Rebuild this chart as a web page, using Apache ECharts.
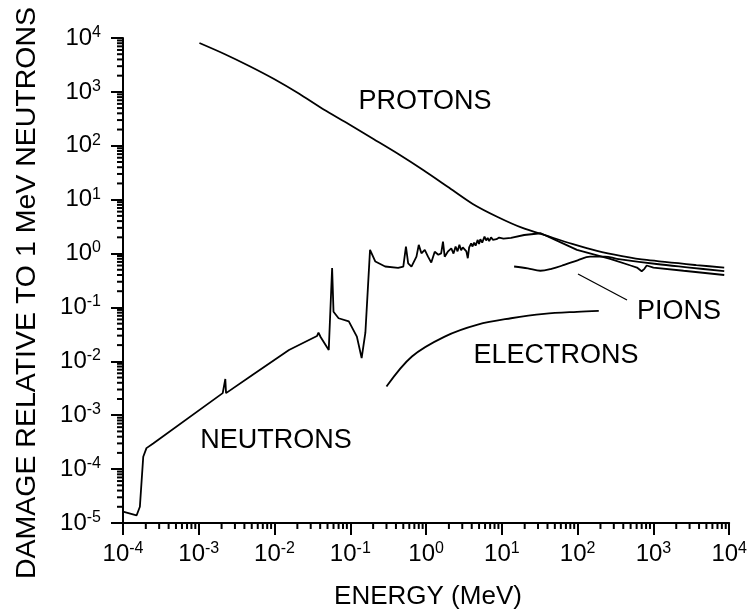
<!DOCTYPE html>
<html><head><meta charset="utf-8">
<script src="https://cdn.jsdelivr.net/npm/echarts@6/dist/echarts.min.js"></script>
<style>html,body{margin:0;padding:0;background:#fff}#c{width:750px;height:612px}</style>
</head><body><div id="c"></div>
<script>
// ---- data (energy in MeV, damage relative to 1 MeV neutrons) ----
const protons = [
  [1.02e-3, 8070], [2.18e-3, 5050], [4.63e-3, 3020], [9.85e-3, 1730], [0.0209, 930],
  [0.0445, 470], [0.0948, 254], [0.202, 134], [0.43, 70.5], [0.914, 35.6],
  [1.95, 17.2], [4.13, 8.34], [8.79, 4.78], [18.7, 2.99], [39.8, 2.12],
  [84.7, 1.51], [180, 1.12], [384, 0.90], [815, 0.76], [3690, 0.61], [8590, 0.55]
];
const neutrons = [
  [1e-4, 1.62e-5], [1.51e-4, 1.38e-5], [1.67e-4, 2.0e-5], [1.85e-4, 1.7e-4],
  [2.04e-4, 2.45e-4], [2.5e-4, 3.0e-4], [2.07e-3, 2.57e-3], [2.24e-3, 4.7e-3],
  [2.29e-3, 2.57e-3], [5.1e-3, 5.6e-3], [0.0155, 0.0162], [0.0363, 0.0295],
  [0.038, 0.034], [0.0407, 0.028], [0.0519, 0.0162], [0.0575, 0.54],
  [0.060, 0.083], [0.070, 0.063], [0.0955, 0.055], [0.122, 0.0288],
  [0.141, 0.0115], [0.158, 0.034], [0.182, 1.17], [0.214, 0.71], [0.288, 0.575],
  [0.427, 0.54], [0.50, 0.57], [0.542, 1.34], [0.58, 0.66], [0.641, 0.57],
  [0.746, 0.875], [0.80, 1.45], [0.867, 1.01], [0.96, 1.17], [1.06, 0.875],
  [1.17, 0.68], [1.30, 1.08], [1.45, 0.95], [1.58, 1.01], [1.67, 1.66], [1.76, 0.875],
  [1.95, 1.1], [2.15, 1.25], [2.3, 1.0], [2.45, 1.35], [2.6, 1.1], [2.75, 1.45],
  [2.9, 1.15], [3.05, 1.3], [3.2, 1.25], [3.4, 1.1], [3.55, 0.82],
  [3.7, 1.3], [3.93, 1.55], [4.1, 1.35], [4.3, 1.6], [4.5, 1.4], [4.8, 1.79],
  [5.0, 1.5], [5.2, 1.85], [5.5, 1.6], [5.9, 2.06], [6.2, 1.75], [6.5, 1.95],
  [6.8, 1.7], [7.2, 2.0], [7.6, 1.8], [7.9, 1.95], [8.5, 1.85], [9.2, 1.98],
  [10.5, 1.9], [13.2, 1.95], [19.7, 2.21], [32.6, 2.38], [55, 1.7], [98, 1.17],
  [268, 0.8], [500, 0.6], [606, 0.55], [700, 0.47], [760, 0.52], [815, 0.6],
  [1000, 0.55], [2500, 0.48], [8600, 0.40]
];
const pions = [
  [14.5, 0.575], [22, 0.53], [32.2, 0.48], [45, 0.52], [66.5, 0.615], [100, 0.75],
  [146, 0.875], [230, 0.88], [330, 0.80], [1100, 0.64], [3000, 0.55], [8600, 0.47]
];
const electrons = [
  [0.30, 3.4e-3], [0.65, 0.0123], [1.76, 0.0288], [4.8, 0.048], [13.2, 0.063],
  [36, 0.076], [98, 0.083], [190, 0.086]
];
const xDecades = [-4, -3, -2, -1, 0, 1, 2, 3, 4];
const yDecades = [-5, -4, -3, -2, -1, 0, 1, 2, 3, 4];
const minorMultipliers = [2, 3, 4, 5, 6, 7, 8, 9];

const X_MIN = 1e-4, X_MAX = 1e4, Y_MIN = 1e-5, Y_MAX = 1e4;

function minorValues(decades) {
  const out = [];
  for (let i = 0; i < decades.length - 1; i++)
    for (const m of minorMultipliers) out.push(m * Math.pow(10, decades[i]));
  return out;
}
const xMinor = minorValues(xDecades).map(v => [v, Y_MIN]);
const yMinor = minorValues(yDecades).map(v => [X_MIN, v]);

const FONT = '"Liberation Sans", Arial, sans-serif';
const supFmt = v => '{b|10}{s|' + Math.round(Math.log10(v)) + '}';
const rich = {
  b: { fontSize: 24, fontFamily: FONT, color: '#000' },
  s: { fontSize: 16, fontFamily: FONT, color: '#000', padding: [0, 0, 11, 0] }
};
const lineStyle = { color: '#000', width: 1.8 };

const chart = echarts.init(document.getElementById('c'), null, { renderer: 'canvas' });
chart.setOption({
  animation: false,
  backgroundColor: '#fff',
  grid: { left: 123, right: 18, top: 38, bottom: 89, containLabel: false },
  xAxis: {
    type: 'log', logBase: 10, min: X_MIN, max: X_MAX,
    axisLine: { lineStyle: { color: '#000', width: 2 } },
    axisTick: { length: 12, lineStyle: { color: '#000', width: 2 } },
    splitLine: { show: false },
    axisLabel: { margin: 18, formatter: supFmt, rich: rich }
  },
  yAxis: {
    type: 'log', logBase: 10, min: Y_MIN, max: Y_MAX,
    axisLine: { lineStyle: { color: '#000', width: 2 } },
    axisTick: { length: 12, lineStyle: { color: '#000', width: 2 } },
    splitLine: { show: false },
    axisLabel: { margin: 22, formatter: supFmt, rich: rich }
  },
  graphic: [
    { type: 'text', x: 428, y: 597, style: { text: 'ENERGY (MeV)', font: '26px ' + FONT, fill: '#000', align: 'center', verticalAlign: 'middle' } },
    { type: 'text', x: 27, y: 293, rotation: Math.PI / 2, style: { text: 'DAMAGE RELATIVE TO 1 MeV NEUTRONS', font: '28.5px ' + FONT, fill: '#000', align: 'center', verticalAlign: 'middle' } },
    { type: 'text', x: 425, y: 102, style: { text: 'PROTONS', font: '27px ' + FONT, fill: '#000', align: 'center', verticalAlign: 'middle' } },
    { type: 'text', x: 276, y: 441, style: { text: 'NEUTRONS', font: '27px ' + FONT, fill: '#000', align: 'center', verticalAlign: 'middle' } },
    { type: 'text', x: 556, y: 356, style: { text: 'ELECTRONS', font: '27px ' + FONT, fill: '#000', align: 'center', verticalAlign: 'middle' } },
    { type: 'text', x: 679, y: 312, style: { text: 'PIONS', font: '27px ' + FONT, fill: '#000', align: 'center', verticalAlign: 'middle' } },
    { type: 'line', shape: { x1: 578, y1: 274, x2: 627, y2: 300 }, style: { stroke: '#000', lineWidth: 1.3 } }
  ],
  series: [
    { type: 'line', data: protons, showSymbol: false, smooth: 0.25, lineStyle, silent: true },
    { type: 'line', data: neutrons, showSymbol: false, lineStyle, silent: true },
    { type: 'line', data: pions, showSymbol: false, smooth: 0.35, lineStyle, silent: true },
    { type: 'line', data: electrons, showSymbol: false, smooth: 0.35, lineStyle, silent: true },
    {
      type: 'custom', data: xMinor, clip: false, silent: true,
      renderItem: (p, api) => {
        const c = api.coord([api.value(0), api.value(1)]);
        return { type: 'line', shape: { x1: c[0], y1: c[1], x2: c[0], y2: c[1] + 6 }, style: { stroke: '#000', lineWidth: 2 } };
      }
    },
    {
      type: 'custom', data: yMinor, clip: false, silent: true,
      renderItem: (p, api) => {
        const c = api.coord([api.value(0), api.value(1)]);
        return { type: 'line', shape: { x1: c[0], y1: c[1], x2: c[0] - 6, y2: c[1] }, style: { stroke: '#000', lineWidth: 2 } };
      }
    }
  ]
});
</script></body></html>
